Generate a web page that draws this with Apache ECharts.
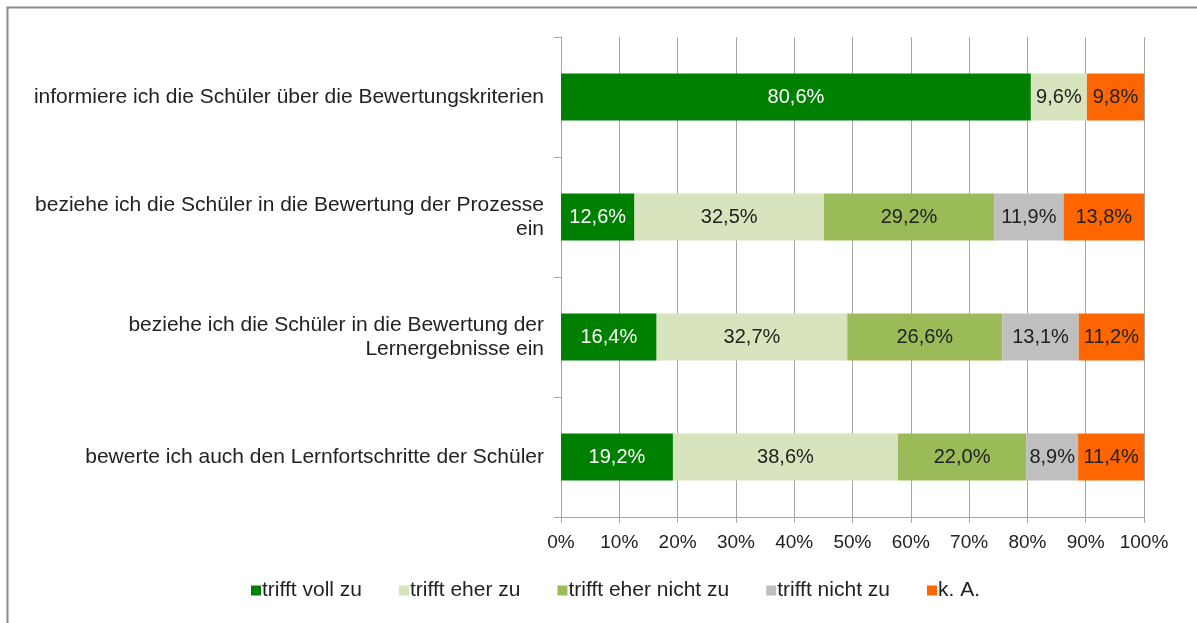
<!DOCTYPE html>
<html>
<head>
<meta charset="utf-8">
<script src="https://cdn.jsdelivr.net/npm/echarts@6/dist/echarts.min.js"></script>
<style>
  html, body { margin: 0; padding: 0; background: #fff; }
  #chart { width: 1197px; height: 623px; }
</style>
</head>
<body>
<div id="chart"></div>
<script>
// categories (top to bottom)
var categories = [
  'informiere ich die Schüler über die Bewertungskriterien',
  'beziehe ich die Schüler in die Bewertung der Prozesse\nein',
  'beziehe ich die Schüler in die Bewertung der\nLernergebnisse ein',
  'bewerte ich auch den Lernfortschritte der Schüler'
]
var seriesNames = ['trifft voll zu', 'trifft eher zu', 'trifft eher nicht zu', 'trifft nicht zu', 'k. A.']
var seriesColors = ['#008000', '#D7E4BD', '#9BBB59', '#BFBFBF', '#FF6600']
var labelColors = ['#ffffff', '#222222', '#222222', '#222222', '#222222']

var voll = [80.6, 12.6, 16.4, 19.2]
var eher = [9.6, 32.5, 32.7, 38.6]
var eherNicht = [null, 29.2, 26.6, 22.0]
var nicht = [null, 11.9, 13.1, 8.9]
var ka = [9.8, 13.8, 11.2, 11.4]
var values = [voll, eher, eherNicht, nicht, ka]

var chart = echarts.init(document.getElementById('chart'))

var series = []
for (var i = 0; i < seriesNames.length; i++) {
  series.push({
    name: seriesNames[i],
    type: 'bar',
    stack: 'total',
    barWidth: 47,
    itemStyle: { color: seriesColors[i] },
    label: {
      show: true,
      position: 'inside',
      color: labelColors[i],
      fontSize: 20,
      formatter: function (p) {
        if (p.value == null) return ''
        return p.value.toFixed(1).replace('.', ',') + '%'
      }
    },
    data: values[i]
  })
}

chart.setOption({
  animation: false,
  textStyle: { fontFamily: 'Liberation Sans, Arial, sans-serif' },
  graphic: [{
    type: 'rect',
    shape: { x: 7.5, y: 7.5, width: 1300, height: 700 },
    style: { fill: 'none', stroke: '#8c8c8c', lineWidth: 2 },
    silent: true
  }],
  grid: {
    left: 561,
    right: 53,
    top: 37,
    bottom: 106
  },
  legend: {
    bottom: 17,
    left: 246,
    itemWidth: 10,
    itemHeight: 10,
    itemGap: 37,
    icon: 'rect',
    textStyle: { fontSize: 21, color: '#222', padding: [0, 0, 0, -4] },
    data: seriesNames
  },
  xAxis: {
    type: 'value',
    min: 0,
    max: 100,
    interval: 10,
    axisLine: { show: true, lineStyle: { color: '#a6a6a6' } },
    axisTick: { show: true, length: 6, lineStyle: { color: '#a6a6a6' } },
    splitLine: { show: true, lineStyle: { color: '#a6a6a6' } },
    axisLabel: {
      fontSize: 19,
      color: '#222',
      margin: 16,
      formatter: function (v) { return v + '%' }
    }
  },
  yAxis: {
    type: 'category',
    inverse: true,
    data: categories,
    axisLine: { show: true, lineStyle: { color: '#a6a6a6' } },
    axisTick: { show: true, length: 7, lineStyle: { color: '#a6a6a6' } },
    axisLabel: {
      fontSize: 21,
      color: '#222',
      margin: 17,
      lineHeight: 24,
      align: 'right'
    }
  },
  series: series
})
</script>
</body>
</html>
